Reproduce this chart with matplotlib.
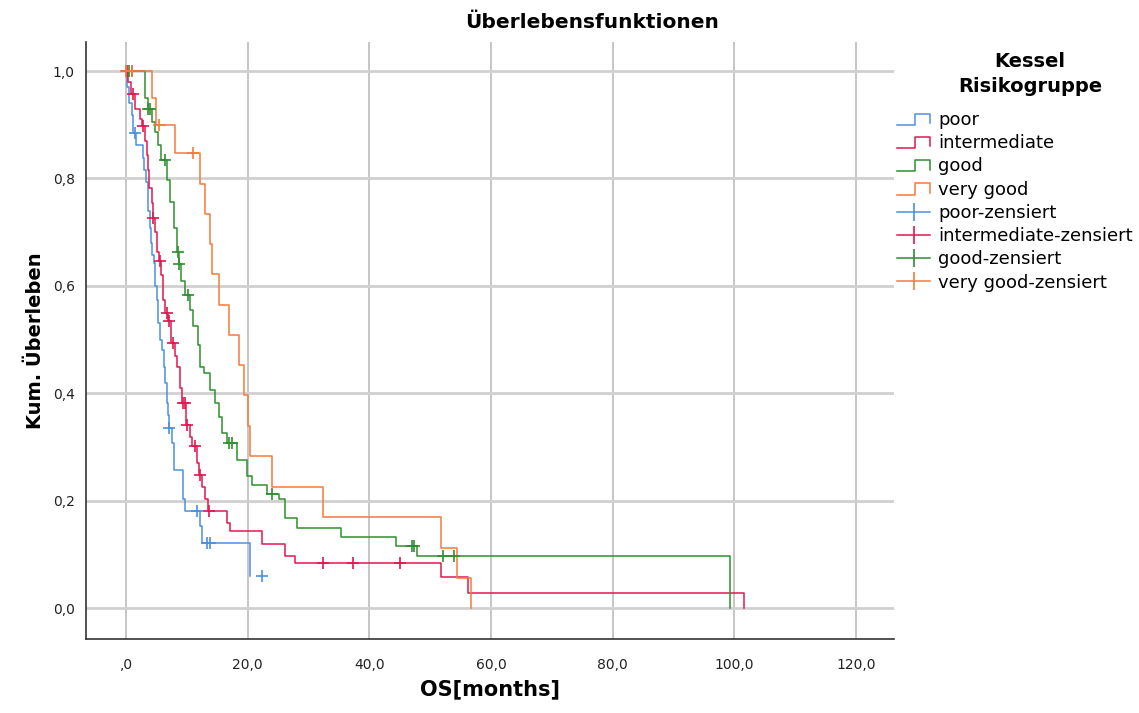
import numpy as np
import matplotlib
matplotlib.use("Agg")
import matplotlib.pyplot as plt
from matplotlib.lines import Line2D
from matplotlib.legend_handler import HandlerBase

# --- Kaplan-Meier step data (time in months, survival after the step) ---
poor_t = [0, 0.2, 0.5, 0.9, 1.2, 1.7, 2.7, 3.0, 3.3, 3.6, 3.9, 4.1, 4.3, 4.6, 4.8, 5.0, 5.3, 5.6, 5.9, 6.2, 6.4, 6.7, 6.9, 7.0, 7.5, 7.8, 9.4, 9.7, 12.2, 12.4, 20.3]
poor_s = [1.0, 0.97, 0.94, 0.918, 0.884, 0.862, 0.838, 0.815, 0.794, 0.739, 0.708, 0.68, 0.658, 0.643, 0.6, 0.574, 0.531, 0.5, 0.481, 0.45, 0.42, 0.382, 0.36, 0.336, 0.308, 0.258, 0.203, 0.181, 0.153, 0.121, 0.061]
poor_cens = [1.4, 7.1, 11.6, 13.3, 13.8, 22.4]

inter_t = [0, 0.3, 0.8, 1.5, 2.2, 2.6, 3.1, 3.4, 3.6, 3.8, 4.2, 4.4, 4.8, 5.1, 5.4, 5.7, 6.0, 6.4, 6.9, 7.4, 8.0, 8.3, 8.8, 9.2, 9.9, 10.5, 10.8, 11.6, 12.0, 12.5, 12.9, 13.5, 16.6, 17.1, 22.4, 26.2, 27.7, 51.8, 56.3, 101.7]
inter_s = [1.0, 0.98, 0.957, 0.93, 0.91, 0.898, 0.87, 0.844, 0.815, 0.783, 0.755, 0.726, 0.70, 0.664, 0.646, 0.62, 0.574, 0.55, 0.534, 0.494, 0.47, 0.45, 0.41, 0.382, 0.342, 0.318, 0.302, 0.27, 0.249, 0.225, 0.203, 0.181, 0.159, 0.144, 0.119, 0.097, 0.085, 0.058, 0.028, 0.0]
inter_cens = [0.1, 1.2, 2.75, 4.5, 5.5, 6.7, 7.0, 7.7, 9.3, 9.7, 10.0, 11.4, 12.2, 13.7, 32.4, 37.3, 45.0]

good_t = [0, 3.1, 3.6, 4.2, 4.7, 5.2, 5.8, 6.7, 7.2, 7.8, 8.3, 8.65, 9.1, 9.7, 10.5, 11.0, 11.8, 12.2, 12.8, 13.8, 14.6, 15.2, 15.8, 16.6, 18.2, 19.9, 20.7, 23.2, 25.1, 26.2, 28.1, 35.4, 44.4, 47.9, 99.4]
good_s = [1.0, 0.95, 0.93, 0.905, 0.887, 0.862, 0.835, 0.797, 0.757, 0.708, 0.664, 0.64, 0.61, 0.584, 0.555, 0.525, 0.49, 0.45, 0.438, 0.407, 0.383, 0.357, 0.327, 0.308, 0.277, 0.246, 0.23, 0.212, 0.203, 0.168, 0.15, 0.133, 0.116, 0.097, 0.0]
good_cens = [0.4, 1.0, 3.6, 4.0, 6.4, 8.6, 8.7, 10.1, 17.0, 17.4, 24.0, 47.0, 47.4, 52.2, 54.0]

vgood_t = [0, 4.2, 4.9, 8.1, 12.2, 13.0, 13.75, 14.2, 15.3, 17.0, 18.5, 19.4, 20.1, 20.4, 24.0, 32.4, 51.8, 54.5, 56.8]
vgood_s = [1.0, 0.95, 0.90, 0.847, 0.79, 0.734, 0.678, 0.622, 0.565, 0.509, 0.453, 0.397, 0.339, 0.283, 0.226, 0.17, 0.113, 0.057, 0.0]
vgood_cens = [0.0, 1.0, 5.4, 11.0]

groups = ["poor", "intermediate", "good", "very good"]
colors = ["#4C8FE0", "#E0184F", "#2E8F2E", "#F7793A"]
series = [(poor_t, poor_s, poor_cens), (inter_t, inter_s, inter_cens),
          (good_t, good_s, good_cens), (vgood_t, vgood_s, vgood_cens)]


def surv_at(t, s, x):
    i = np.searchsorted(np.array(t), x, side="right") - 1
    return np.array(s)[i]


class StepHandler(HandlerBase):
    def create_artists(self, legend, orig_handle, x0, y0, width, height, fontsize, trans):
        xs = [x0, x0 + width * 0.55, x0 + width * 0.55, x0 + width, x0 + width]
        ys = [y0 + height * 0.0, y0 + height * 0.0, y0 + height * 0.9, y0 + height * 0.9, y0 + height * 0.15]
        ln = Line2D(xs, ys, color=orig_handle.get_color(), lw=1.1, transform=trans)
        return [ln]


fig = plt.figure(figsize=(11.39, 7.13), dpi=100)
ax = fig.add_axes([86 / 1139, 74 / 713, (894 - 86) / 1139, (639 - 42) / 713])

step_handles = []
cens_handles = []
for name, c, (t, s, cens) in zip(groups, colors, series):
    ax.step(t, s, where="post", color=c, lw=1.1, zorder=3)
    cy = [surv_at(t, s, x) for x in cens]
    ax.plot(cens, cy, linestyle="none", marker="+", markersize=8.5, mew=1.2, color=c, zorder=4)
    step_handles.append(Line2D([], [], color=c))
    cens_handles.append(Line2D([], [], color=c, marker="|", markersize=13, mew=1.2, lw=1.1))

ax.set_xlim(-6.6, 126.3)
ax.set_ylim(-0.057, 1.054)
ax.set_xticks([0, 20, 40, 60, 80, 100, 120])
ax.set_xticklabels([",0", "20,0", "40,0", "60,0", "80,0", "100,0", "120,0"])
ax.set_yticks([0, 0.2, 0.4, 0.6, 0.8, 1.0])
ax.set_yticklabels(["0,0", "0,2", "0,4", "0,6", "0,8", "1,0"])
ax.tick_params(length=0, labelsize=10, colors="#222222")
ax.tick_params(axis="x", pad=14)
ax.tick_params(axis="y", pad=8)
ax.xaxis.grid(True, color="#bcbcbc", lw=1.2)
ax.yaxis.grid(True, color="#d0d0d0", lw=2.0)
ax.set_axisbelow(True)
for sp in ["top", "right"]:
    ax.spines[sp].set_visible(False)
for sp in ["left", "bottom"]:
    ax.spines[sp].set_color("#333333")
    ax.spines[sp].set_linewidth(1.2)

ax.set_xlabel("OS[months]", fontsize=15, fontweight="bold", labelpad=5)
ax.set_ylabel("Kum. Überleben", fontsize=14, fontweight="bold", labelpad=6)
fig.text(592 / 1139, 1 - 22 / 713, "Überlebensfunktionen", ha="center", va="center",
         fontsize=14.5, fontweight="bold")

fig.text(1030 / 1139, 1 - 74 / 713, "Kessel\nRisikogruppe", ha="center", va="center",
         fontsize=14, fontweight="bold", linespacing=1.35)

labels = groups + [g + "-zensiert" for g in groups]
handler_map = {h: StepHandler() for h in step_handles}
fig.legend(step_handles + cens_handles, labels, handler_map=handler_map,
           loc="upper left", bbox_to_anchor=(897 / 1139, 1 - 111 / 713),
           frameon=False, fontsize=13, borderpad=0, borderaxespad=0,
           handlelength=1.85, handletextpad=0.42, labelspacing=0.29)

fig.savefig("out.png", dpi=100)
